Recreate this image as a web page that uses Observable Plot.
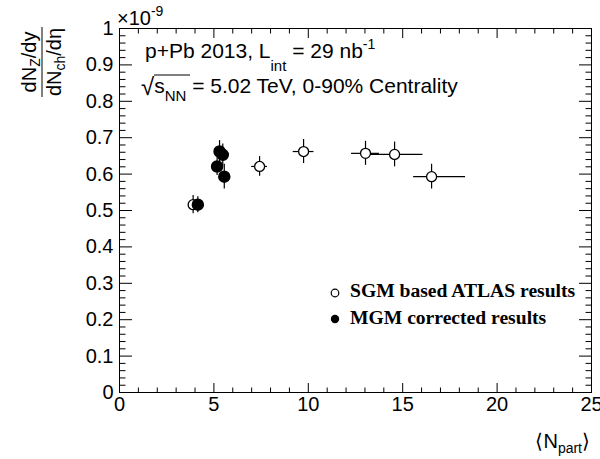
<!DOCTYPE html>
<html><head><meta charset="utf-8">
<script src="https://cdn.jsdelivr.net/npm/d3@7"></script>
<script src="https://cdn.jsdelivr.net/npm/@observablehq/plot@0.6"></script>
<style>html,body{margin:0;padding:0;background:#fff}svg{display:block}</style>
</head><body><div id="chart"></div>
<script>
// SGM based ATLAS results (open circles)
const sgmNpart = [3.90, 7.42, 9.75, 13.03, 14.57, 16.53];
const sgmRatio = [0.516, 0.621, 0.662, 0.657, 0.654, 0.593];
const sgmRatioErr = [0.025, 0.027, 0.033, 0.033, 0.034, 0.034];
const sgmNpartErrLo = [0.0, 0.42, 0.55, 0.74, 1.5, 0.95];
const sgmNpartErrHi = [0.0, 0.42, 0.55, 0.74, 1.5, 1.8];
// MGM corrected results (filled circles)
const mgmNpart = [4.15, 5.17, 5.30, 5.47, 5.55];
const mgmRatio = [0.516, 0.621, 0.662, 0.653, 0.593];
const mgmRatioErr = [0.022, 0.025, 0.030, 0.030, 0.034];
// axis ticks
const xMajor = [0, 5, 10, 15, 20, 25];
const xMinor = d3.range(0, 26, 1).filter(v => v % 5 !== 0);
const yMajor = d3.range(0, 11).map(i => i / 10);
const yMinor = d3.range(0, 51).map(i => i / 50).filter((v, i) => i % 5 !== 0);
const yTickLabels = ["0", "0.1", "0.2", "0.3", "0.4", "0.5", "0.6", "0.7", "0.8", "0.9", "1"];

const sgm = sgmNpart.map((n, i) => ({n, r: sgmRatio[i], re: sgmRatioErr[i], lo: sgmNpartErrLo[i], hi: sgmNpartErrHi[i]}));
const mgm = mgmNpart.map((n, i) => ({n, r: mgmRatio[i], re: mgmRatioErr[i]}));

const tick = {stroke: "black", strokeWidth: 1, text: null, label: null};
const chart = Plot.plot({
  width: 600, height: 459,
  marginLeft: 119, marginRight: 9, marginTop: 28, marginBottom: 67,
  x: {domain: [0, 25]},
  y: {domain: [0, 1]},
  style: {fontFamily: "'Liberation Sans', Arial, sans-serif", fontSize: "20px", color: "black", background: "white"},
  marks: [
    Plot.axisX({anchor: "bottom", ticks: xMajor, tickSize: 0, tickPadding: 4, tickFormat: d => String(d), label: null, fontSize: 20}),
    Plot.axisX({anchor: "bottom", ticks: xMajor, tickSize: 9, dy: -9, ...tick}),
    Plot.axisX({anchor: "bottom", ticks: xMinor, tickSize: 4.5, dy: -4.5, ...tick}),
    Plot.axisX({anchor: "top", ticks: xMajor, tickSize: 9, dy: 9, ...tick}),
    Plot.axisX({anchor: "top", ticks: xMinor, tickSize: 4.5, dy: 4.5, ...tick}),
    Plot.axisY({anchor: "left", ticks: yMajor, tickSize: 0, tickPadding: 6, tickFormat: d => yTickLabels[Math.round(d * 10)], label: null, fontSize: 20}),
    Plot.axisY({anchor: "left", ticks: yMajor, tickSize: 13, dx: 13, ...tick}),
    Plot.axisY({anchor: "left", ticks: yMinor, tickSize: 6.5, dx: 6.5, ...tick}),
    Plot.axisY({anchor: "right", ticks: yMajor, tickSize: 13, dx: -13, ...tick}),
    Plot.axisY({anchor: "right", ticks: yMinor, tickSize: 6.5, dx: -6.5, ...tick}),
    Plot.frame({stroke: "black", strokeWidth: 1}),
    Plot.ruleX(sgm, {x: "n", y1: d => d.r - d.re, y2: d => d.r + d.re, stroke: "black", strokeWidth: 1.2}),
    Plot.ruleY(sgm.filter(d => d.lo + d.hi > 0), {y: "r", x1: d => d.n - d.lo, x2: d => d.n + d.hi, stroke: "black", strokeWidth: 1.2}),
    Plot.dot(sgm, {x: "n", y: "r", r: 5, fill: "white", stroke: "black", strokeWidth: 1.3}),
    Plot.ruleX(mgm, {x: "n", y1: d => d.r - d.re, y2: d => d.r + d.re, stroke: "black", strokeWidth: 1.2}),
    Plot.dot(mgm, {x: "n", y: "r", r: 5.5, fill: "black", stroke: "black"})
  ]
});
document.getElementById("chart").appendChild(chart);

const svg = d3.select(chart);
const sans = "'Liberation Sans', Arial, sans-serif";
const serif = "'Liberation Serif', 'Times New Roman', serif";
const ann = svg.append("g").attr("text-anchor", "start").attr("fill", "black");

// y-axis title (rotated fraction)
const yt = ann.append("g").attr("transform", "translate(42,62) rotate(-90)")
  .attr("font-family", sans).attr("font-size", 20);
const num = yt.append("text").attr("text-anchor", "middle").attr("y", -6);
num.append("tspan").text("dN");
num.append("tspan").attr("font-size", 14).attr("dy", 4).text("Z");
num.append("tspan").attr("dy", -4).text("/dy");
yt.append("line").attr("x1", -35).attr("x2", 35).attr("y1", 0).attr("y2", 0).attr("stroke", "black").attr("stroke-width", 1);
const den = yt.append("text").attr("text-anchor", "middle").attr("y", 19);
den.append("tspan").text("dN");
den.append("tspan").attr("font-size", 14).attr("dy", 4).text("ch");
den.append("tspan").attr("dy", -4).text("/dη");

// exponent
const ex = ann.append("text").attr("x", 117).attr("y", 25).attr("font-family", sans).attr("font-size", 20);
ex.append("tspan").text("×10");
ex.append("tspan").attr("font-size", 14).attr("dy", -9).text("-9");

// annotation
const a1 = ann.append("text").attr("x", 145).attr("y", 58).attr("font-family", sans).attr("font-size", 21);
a1.append("tspan").text("p+Pb 2013, L");
a1.append("tspan").attr("font-size", 15).attr("dy", 13).text("int");
a1.append("tspan").attr("dy", -13).text(" = 29 nb");
a1.append("tspan").attr("font-size", 14).attr("dy", -9).text("-1");

const a2 = ann.append("text").attr("x", 141).attr("y", 93).attr("font-family", sans).attr("font-size", 21);
a2.append("tspan").attr("font-size", 24).attr("dy", 2).text("√");
a2.append("tspan").attr("dy", -2).text("s");
a2.append("tspan").attr("font-size", 15).attr("dy", 8).text("NN");
a2.append("tspan").attr("dy", -8).text(" = 5.02 TeV, 0-90% Centrality");
// root bar over s_NN
ann.append("line").attr("x1", 154).attr("x2", 190).attr("y1", 75).attr("y2", 75).attr("stroke", "black").attr("stroke-width", 1);

// legend
const lg = ann.append("g").attr("font-family", serif).attr("font-weight", "bold").attr("font-size", 19.6);
lg.append("circle").attr("cx", 335).attr("cy", 293).attr("r", 3.8).attr("fill", "white").attr("stroke", "black").attr("stroke-width", 1.2);
lg.append("text").attr("x", 350).attr("y", 297).text("SGM based ATLAS results");
lg.append("circle").attr("cx", 335).attr("cy", 319).attr("r", 4.2).attr("fill", "black");
lg.append("text").attr("x", 350).attr("y", 324).text("MGM corrected results");

// x-axis title
const xt = ann.append("text").attr("x", 590).attr("y", 448).attr("text-anchor", "end").attr("font-family", sans).attr("font-size", 20);
xt.append("tspan").text("⟨N");
xt.append("tspan").attr("font-size", 14).attr("dy", 5).text("part");
xt.append("tspan").attr("dy", -5).text("⟩");
</script>
</body></html>
